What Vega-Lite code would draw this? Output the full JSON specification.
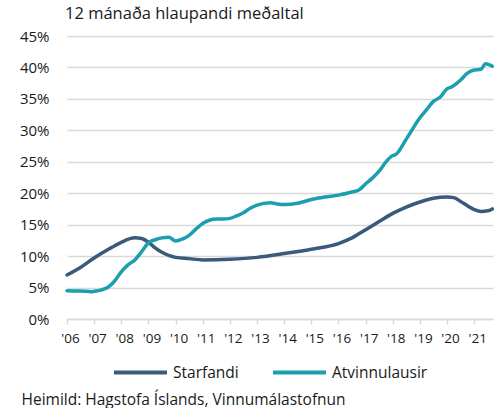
{
  "$schema": "https://vega.github.io/schema/vega-lite/v6.json",
  "width": 426,
  "height": 283,
  "autosize": {"type": "none"},
  "padding": {"left": 67, "top": 36, "right": 7, "bottom": 89},
  "background": "white",
  "config": {
    "font": "Open Sans",
    "view": {"stroke": null},
    "axis": {"labelFont": "Open Sans", "labelColor": "#1a1a1a", "labelFontSize": 15}
  },
  "title": {
    "text": "12 mánaða hlaupandi meðaltal",
    "anchor": "start",
    "frame": "group",
    "fontSize": 16.5,
    "fontWeight": "normal",
    "color": "#1a1a1a",
    "offset": 7,
    "dx": -2
  },
  "data": {
    "values": [
      {"date": "2006-01-01", "series": "Starfandi", "value": 7.0},
      {"date": "2006-07-01", "series": "Starfandi", "value": 8.2},
      {"date": "2007-01-01", "series": "Starfandi", "value": 9.7},
      {"date": "2007-07-01", "series": "Starfandi", "value": 11.0},
      {"date": "2008-01-01", "series": "Starfandi", "value": 12.2},
      {"date": "2008-07-01", "series": "Starfandi", "value": 12.9},
      {"date": "2008-10-01", "series": "Starfandi", "value": 12.8},
      {"date": "2009-01-01", "series": "Starfandi", "value": 12.2},
      {"date": "2009-04-01", "series": "Starfandi", "value": 11.3},
      {"date": "2009-07-01", "series": "Starfandi", "value": 10.6},
      {"date": "2009-10-01", "series": "Starfandi", "value": 10.1},
      {"date": "2010-01-01", "series": "Starfandi", "value": 9.8},
      {"date": "2010-07-01", "series": "Starfandi", "value": 9.6},
      {"date": "2011-01-01", "series": "Starfandi", "value": 9.4},
      {"date": "2012-01-01", "series": "Starfandi", "value": 9.5},
      {"date": "2013-01-01", "series": "Starfandi", "value": 9.8},
      {"date": "2014-01-01", "series": "Starfandi", "value": 10.4},
      {"date": "2015-01-01", "series": "Starfandi", "value": 11.1},
      {"date": "2016-01-01", "series": "Starfandi", "value": 12.0},
      {"date": "2016-07-01", "series": "Starfandi", "value": 12.9},
      {"date": "2017-01-01", "series": "Starfandi", "value": 14.2},
      {"date": "2017-07-01", "series": "Starfandi", "value": 15.5},
      {"date": "2018-01-01", "series": "Starfandi", "value": 16.8},
      {"date": "2018-07-01", "series": "Starfandi", "value": 17.8},
      {"date": "2019-01-01", "series": "Starfandi", "value": 18.6},
      {"date": "2019-07-01", "series": "Starfandi", "value": 19.2},
      {"date": "2020-01-01", "series": "Starfandi", "value": 19.4},
      {"date": "2020-04-01", "series": "Starfandi", "value": 19.3},
      {"date": "2020-07-01", "series": "Starfandi", "value": 18.7},
      {"date": "2020-10-01", "series": "Starfandi", "value": 18.0},
      {"date": "2021-01-01", "series": "Starfandi", "value": 17.4},
      {"date": "2021-04-01", "series": "Starfandi", "value": 17.1},
      {"date": "2021-07-01", "series": "Starfandi", "value": 17.2},
      {"date": "2021-09-01", "series": "Starfandi", "value": 17.5},
      {"date": "2006-01-01", "series": "Atvinnulausir", "value": 4.5},
      {"date": "2006-07-01", "series": "Atvinnulausir", "value": 4.45},
      {"date": "2006-12-01", "series": "Atvinnulausir", "value": 4.35},
      {"date": "2007-01-01", "series": "Atvinnulausir", "value": 4.4},
      {"date": "2007-04-01", "series": "Atvinnulausir", "value": 4.6},
      {"date": "2007-07-01", "series": "Atvinnulausir", "value": 5.0},
      {"date": "2007-10-01", "series": "Atvinnulausir", "value": 6.0},
      {"date": "2008-01-01", "series": "Atvinnulausir", "value": 7.5},
      {"date": "2008-04-01", "series": "Atvinnulausir", "value": 8.6},
      {"date": "2008-07-01", "series": "Atvinnulausir", "value": 9.4},
      {"date": "2008-10-01", "series": "Atvinnulausir", "value": 10.7},
      {"date": "2009-01-01", "series": "Atvinnulausir", "value": 12.1},
      {"date": "2009-04-01", "series": "Atvinnulausir", "value": 12.6},
      {"date": "2009-07-01", "series": "Atvinnulausir", "value": 12.9},
      {"date": "2009-10-01", "series": "Atvinnulausir", "value": 13.0},
      {"date": "2010-01-01", "series": "Atvinnulausir", "value": 12.4},
      {"date": "2010-04-01", "series": "Atvinnulausir", "value": 12.7},
      {"date": "2010-07-01", "series": "Atvinnulausir", "value": 13.3},
      {"date": "2010-10-01", "series": "Atvinnulausir", "value": 14.3},
      {"date": "2011-01-01", "series": "Atvinnulausir", "value": 15.2},
      {"date": "2011-04-01", "series": "Atvinnulausir", "value": 15.7},
      {"date": "2011-07-01", "series": "Atvinnulausir", "value": 15.9},
      {"date": "2011-10-01", "series": "Atvinnulausir", "value": 15.9},
      {"date": "2012-01-01", "series": "Atvinnulausir", "value": 16.0},
      {"date": "2012-04-01", "series": "Atvinnulausir", "value": 16.4},
      {"date": "2012-07-01", "series": "Atvinnulausir", "value": 16.9},
      {"date": "2012-10-01", "series": "Atvinnulausir", "value": 17.6},
      {"date": "2013-01-01", "series": "Atvinnulausir", "value": 18.1},
      {"date": "2013-07-01", "series": "Atvinnulausir", "value": 18.5},
      {"date": "2013-10-01", "series": "Atvinnulausir", "value": 18.3},
      {"date": "2014-01-01", "series": "Atvinnulausir", "value": 18.2},
      {"date": "2014-07-01", "series": "Atvinnulausir", "value": 18.4},
      {"date": "2015-01-01", "series": "Atvinnulausir", "value": 19.0},
      {"date": "2015-07-01", "series": "Atvinnulausir", "value": 19.4},
      {"date": "2016-01-01", "series": "Atvinnulausir", "value": 19.7},
      {"date": "2016-07-01", "series": "Atvinnulausir", "value": 20.2},
      {"date": "2016-10-01", "series": "Atvinnulausir", "value": 20.5},
      {"date": "2017-01-01", "series": "Atvinnulausir", "value": 21.5},
      {"date": "2017-04-01", "series": "Atvinnulausir", "value": 22.4},
      {"date": "2017-07-01", "series": "Atvinnulausir", "value": 23.5},
      {"date": "2017-10-01", "series": "Atvinnulausir", "value": 25.0},
      {"date": "2018-01-01", "series": "Atvinnulausir", "value": 26.0},
      {"date": "2018-02-01", "series": "Atvinnulausir", "value": 26.1},
      {"date": "2018-07-01", "series": "Atvinnulausir", "value": 28.6},
      {"date": "2019-01-01", "series": "Atvinnulausir", "value": 32.0},
      {"date": "2019-04-01", "series": "Atvinnulausir", "value": 33.3},
      {"date": "2019-07-01", "series": "Atvinnulausir", "value": 34.6},
      {"date": "2019-10-01", "series": "Atvinnulausir", "value": 35.3},
      {"date": "2020-01-01", "series": "Atvinnulausir", "value": 36.6},
      {"date": "2020-03-01", "series": "Atvinnulausir", "value": 36.9},
      {"date": "2020-07-01", "series": "Atvinnulausir", "value": 38.0},
      {"date": "2020-10-01", "series": "Atvinnulausir", "value": 39.1},
      {"date": "2021-01-01", "series": "Atvinnulausir", "value": 39.6},
      {"date": "2021-04-01", "series": "Atvinnulausir", "value": 39.7},
      {"date": "2021-06-01", "series": "Atvinnulausir", "value": 40.6},
      {"date": "2021-09-01", "series": "Atvinnulausir", "value": 40.2}
    ]
  },
  "mark": {"type": "line", "strokeWidth": 3.5, "interpolate": "monotone", "strokeCap": "round"},
  "encoding": {
    "x": {
      "field": "date",
      "type": "temporal",
      "scale": {"domain": ["2006-01-01", "2021-09-10"]},
      "axis": {
        "format": "'%y",
        "tickCount": {"interval": "year", "step": 1},
        "grid": false,
        "domainColor": "#d9d9d9",
        "domainWidth": 1.5,
        "tickColor": "#d9d9d9",
        "tickWidth": 1.5,
        "tickSize": 5,
        "labelPadding": 7,
        "labelOffset": 3,
        "labelFontSize": 13.5,
        "labelFlush": false,
        "title": "Heimild: Hagstofa Íslands, Vinnumálastofnun",
        "titleFont": "Open Sans",
        "titleFontSize": 15.5,
        "titleFontWeight": "normal",
        "titleColor": "#1a1a1a",
        "titleAlign": "left",
        "titleAnchor": "start",
        "titleBaseline": "middle",
        "titleX": -46,
        "titleY": 80
      }
    },
    "y": {
      "field": "value",
      "type": "quantitative",
      "scale": {"domain": [0, 45], "nice": false},
      "axis": {
        "values": [0, 5, 10, 15, 20, 25, 30, 35, 40, 45],
        "labelExpr": "datum.value + '%'",
        "ticks": false,
        "domain": false,
        "gridColor": "#d9d9d9",
        "gridWidth": 1.5,
        "labelPadding": 18,
        "title": null
      }
    },
    "color": {
      "field": "series",
      "type": "nominal",
      "sort": ["Starfandi", "Atvinnulausir"],
      "scale": {"domain": ["Starfandi", "Atvinnulausir"], "range": ["#3a5a7c", "#1a9faf"]},
      "legend": {
        "orient": "none",
        "legendX": 45,
        "legendY": 308,
        "direction": "horizontal",
        "title": null,
        "symbolType": "stroke",
        "symbolSize": 2809,
        "symbolStrokeWidth": 4,
        "labelFontSize": 15.5,
        "labelColor": "#1a1a1a",
        "labelFont": "Open Sans",
        "columnPadding": 26,
        "labelOffset": 4
      }
    }
  }
}
